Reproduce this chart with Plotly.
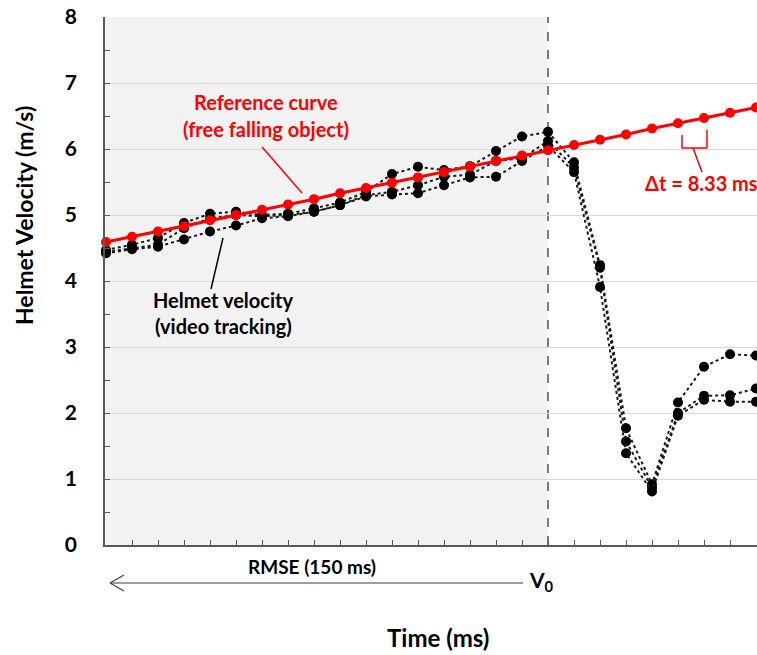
import plotly.graph_objects as go

# ---------------- data ----------------
time_ms = [-141.61, -133.28, -124.95, -116.62, -108.29, -99.96, -91.63, -83.30,
           -74.97, -66.64, -58.31, -49.98, -41.65, -33.32, -24.99, -16.66, -8.33,
           0.0, 8.33, 16.66, 24.99, 33.32, 41.65, 49.98, 58.31, 66.64]

reference_curve = [4.59, 4.67, 4.75, 4.83, 4.92, 5.00, 5.08, 5.16, 5.24, 5.33,
                   5.41, 5.49, 5.57, 5.65, 5.73, 5.82, 5.90, 5.98, 6.06, 6.14,
                   6.22, 6.31, 6.39, 6.47, 6.55, 6.63]

helmet_trial_1 = [4.47, 4.55, 4.65, 4.88, 5.02, 5.05, 5.00, 5.02, 5.10, 5.19,
                  5.35, 5.62, 5.73, 5.68, 5.74, 5.97, 6.19, 6.26, 5.80, 4.24,
                  1.77, 0.92, 2.16, 2.70, 2.89, 2.87]
helmet_trial_2 = [4.44, 4.50, 4.55, 4.80, 4.95, 5.00, 4.98, 5.00, 5.05, 5.15,
                  5.30, 5.35, 5.45, 5.58, 5.61, 5.82, 5.86, 6.12, 5.72, 4.20,
                  1.57, 0.87, 2.00, 2.26, 2.27, 2.37]
helmet_trial_3 = [4.42, 4.48, 4.52, 4.63, 4.75, 4.84, 4.95, 4.98, 5.05, 5.15,
                  5.28, 5.31, 5.33, 5.45, 5.57, 5.58, 5.82, 6.05, 5.65, 3.91,
                  1.39, 0.81, 1.96, 2.20, 2.17, 2.17]

v0_time = 0.0
dt_ms = 8.33
y_ticks = [0, 1, 2, 3, 4, 5, 6, 7, 8]

# ---------------- layout helpers ----------------
FONT = "Lato"
L, R, T, B = 105, 757, 17, 545
W, H = R - L, B - T


def px(x):
    return (x - L) / W


def py(y):
    return (B - y) / H


x_min = time_ms[0] - dt_ms / 26.0
x_max = time_ms[-1] + dt_ms / 26.0

fig = go.Figure()

for trial in (helmet_trial_1, helmet_trial_2, helmet_trial_3):
    fig.add_trace(go.Scatter(
        x=time_ms, y=trial, mode="lines+markers",
        line=dict(color="#1a1a1a", width=2, dash="dot"),
        marker=dict(color="black", size=10),
        cliponaxis=False, showlegend=False))

fig.add_trace(go.Scatter(
    x=time_ms, y=reference_curve, mode="lines+markers",
    line=dict(color="#ff0000", width=3),
    marker=dict(color="#ff0000", size=10),
    cliponaxis=False, showlegend=False))

shapes = [
    # shaded RMSE window
    dict(type="rect", xref="x", yref="y", x0=x_min, x1=v0_time, y0=0, y1=8,
         fillcolor="#f2f2f2", line=dict(width=0), layer="below"),
    # V0 dashed line
    dict(type="line", xref="x", yref="y", x0=v0_time, x1=v0_time, y0=0, y1=8,
         line=dict(color="black", width=1, dash="dash"), layer="below"),
    # leader for reference curve label
    dict(type="line", xref="paper", yref="paper", x0=px(262), y0=py(147),
         x1=px(302), y1=py(193), line=dict(color="#ff0000", width=1.5)),
    # leader for helmet label
    dict(type="line", xref="paper", yref="paper", x0=px(223), y0=py(238),
         x1=px(211), y1=py(289), line=dict(color="black", width=1.5)),
    # delta t bracket
    dict(type="line", xref="paper", yref="paper", x0=px(682), y0=py(135),
         x1=px(682), y1=py(148), line=dict(color="#ff0000", width=1.5)),
    dict(type="line", xref="paper", yref="paper", x0=px(682), y0=py(148),
         x1=px(707), y1=py(148), line=dict(color="#ff0000", width=1.5)),
    dict(type="line", xref="paper", yref="paper", x0=px(707), y0=py(130),
         x1=px(707), y1=py(148), line=dict(color="#ff0000", width=1.5)),
    dict(type="line", xref="paper", yref="paper", x0=px(693), y0=py(148),
         x1=px(702), y1=py(172), line=dict(color="#ff0000", width=1.5)),
    # RMSE arrow
    dict(type="line", xref="paper", yref="paper", x0=px(523), y0=py(583),
         x1=px(110), y1=py(583), line=dict(color="#404040", width=1.2)),
    dict(type="line", xref="paper", yref="paper", x0=px(110), y0=py(583),
         x1=px(124), y1=py(575), line=dict(color="#404040", width=1.2)),
    dict(type="line", xref="paper", yref="paper", x0=px(110), y0=py(583),
         x1=px(124), y1=py(591), line=dict(color="#404040", width=1.2)),
]


def ann(text, x, y, size, color="black", xanchor="center", angle=0):
    return dict(text=text, xref="paper", yref="paper", x=px(x), y=py(y),
                xanchor=xanchor, yanchor="middle", showarrow=False,
                textangle=angle,
                font=dict(family=FONT, size=size, color=color, weight="bold"))


annotations = [
    ann("Reference curve", 266, 102, 20, "#ff0000"),
    ann("(free falling object)", 266, 129, 20, "#ff0000"),
    ann("Helmet velocity", 223, 300, 20),
    ann("(video tracking)", 223, 326, 20),
    ann("Δt = 8.33 ms", 643, 183, 20, "#ff0000", xanchor="left"),
    ann("RMSE (150 ms)", 312, 566, 19),
    ann("V<sub>0</sub>", 541, 581, 21),
    ann("Time (ms)", 438, 637, 24),
    ann("Helmet Velocity (m/s)", 24, 216, 23, angle=-90),
]

fig.update_layout(
    width=757, height=655, autosize=False,
    margin=dict(l=L, r=757 - R, t=T, b=655 - B, pad=0),
    plot_bgcolor="white", paper_bgcolor="white",
    shapes=shapes, annotations=annotations,
    font=dict(family=FONT, color="black"),
    xaxis=dict(range=[x_min, x_max], showgrid=False, zeroline=False,
               showline=True, linecolor="#595959", linewidth=1.5,
               ticks="inside", ticklen=5, tickcolor="#595959",
               tick0=v0_time, dtick=dt_ms, showticklabels=False),
    yaxis=dict(range=[0, 8], tickvals=y_ticks, showgrid=True,
               gridcolor="#d9d9d9", gridwidth=1.2, zeroline=False,
               showline=True, linecolor="#595959", linewidth=1.5,
               ticks="inside", ticklen=5, tickcolor="#595959",
               ticklabelstandoff=22,
               tickfont=dict(family=FONT, size=21, color="black", weight="bold"),
               minor=dict(dtick=0.5, ticks="inside", ticklen=5,
                          tickcolor="#595959", showgrid=False)),
)

fig.write_html("out.html")
